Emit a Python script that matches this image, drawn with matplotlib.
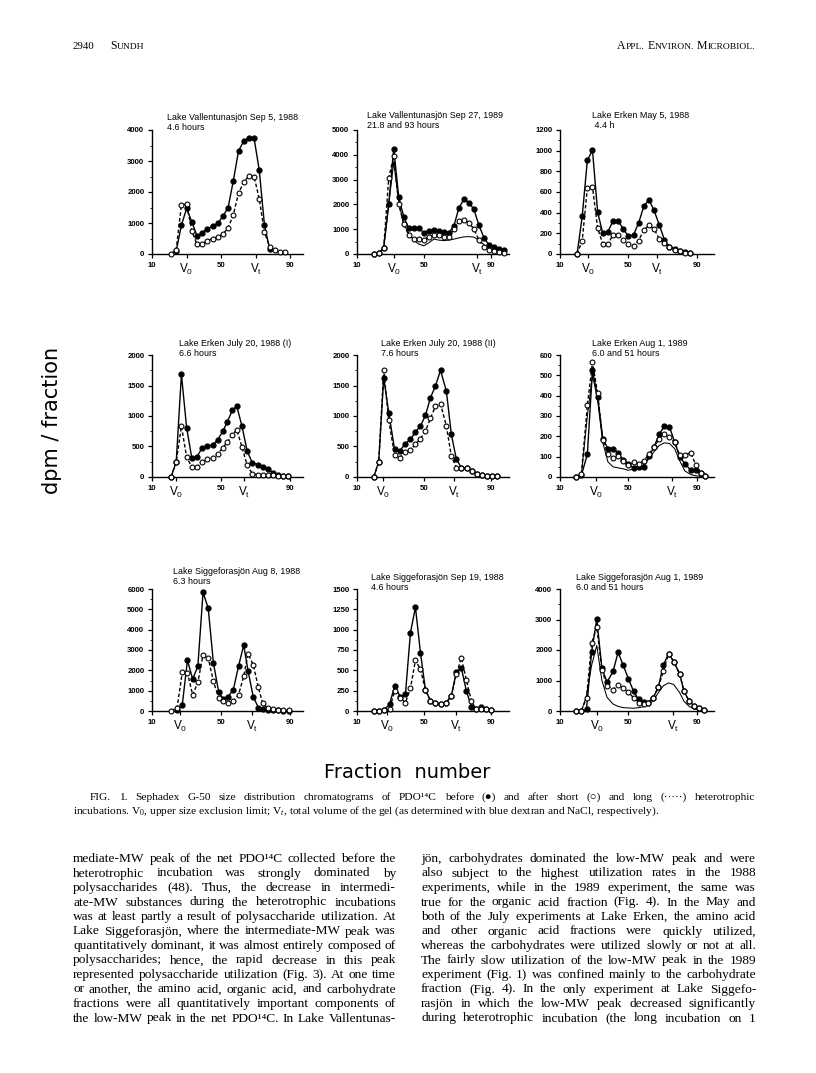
import numpy as np
import matplotlib
matplotlib.use('Agg')
import matplotlib.pyplot as plt

nan = np.nan
W, H = 816, 1073

plt.rcParams['mathtext.fontset'] = 'custom'
plt.rcParams['mathtext.rm'] = 'Liberation Serif'
plt.rcParams['mathtext.it'] = 'Liberation Serif:italic'
plt.rcParams['mathtext.sf'] = 'Liberation Sans'

# ==========================
# Data (fraction number vs dpm / fraction)
# ==========================

# Lake Vallentunasjon Sep 5, 1988
p1_frac = [21, 24, 27, 30, 33, 36, 39, 42, 45, 48, 51, 54, 57, 60, 63, 66, 69, 72, 75, 78, 81, 84, 87]
p1_before = [nan, 100, 930, 1470, 1040, 585, 690, 810, 900, 990, 1220, 1500, 2360, 3320, 3640, 3740, 3740, 2700, 940, 160, nan, nan, nan]
p1_short = [0, 140, 1580, 1610, 750, 310, 335, 420, 500, 550, 640, 845, 1260, 1960, 2310, 2520, 2500, 1780, 705, 230, 120, 75, 65]

# Lake Vallentunasjon Sep 27, 1989
p2_frac = [20, 23, 26, 29, 32, 35, 38, 41, 44, 47, 50, 53, 56, 59, 62, 65, 68, 71, 74, 77, 80, 83, 86, 89, 92, 95, 98]
p2_before = [0, 30, 260, 2010, 4245, 2280, 1500, 1040, 1040, 1040, 860, 930, 960, 930, 900, 860, 1130, 1850, 2210, 2075, 1800, 1160, 660, 365, 280, 215, 150]
p2_short = [0, 30, 250, 3060, 3960, 2000, 1200, 755, 590, 590, 570, 700, 755, 755, 700, 700, 1020, 1330, 1375, 1240, 1020, 550, 300, 175, 120, 70, 40]
p2_long = [0, 0, 250, 2000, 3700, 2100, 1200, 850, 550, 400, 330, 450, 600, 560, 540, 560, 600, 650, 690, 700, 680, 560, 380, 220, 130, 80, 40]

# Lake Erken May 5, 1988
p3_frac = [20, 23, 26, 29, 32, 35, 38, 41, 44, 47, 50, 53, 56, 59, 62, 65, 68, 71, 74, 77, 80, 83, 86]
p3_before = [0, 366, 908, 1005, 405, 201, 217, 318, 318, 243, 172, 185, 302, 460, 525, 422, 285, 140, 71, 49, 32, 23, 13]
p3_short = [0, 130, 639, 649, 250, 97, 97, 185, 188, 136, 97, 81, 130, 233, 276, 243, 146, 104, 65, 42, 26, 13, 6]

# Lake Erken July 20, 1988 (I)
p4_frac = [21, 24, 27, 30, 33, 36, 39, 42, 45, 48, 51, 53.5, 56.5, 59, 62, 65, 68, 71, 74, 77, 80, 83, 85.5, 88.5]
p4_before = [0, 247, 1682, 811, 312, 329, 482, 504, 521, 614, 751, 904, 1096, 1162, 833, 427, 230, 203, 164, 137, 66, 27, 16, 11]
p4_short = [0, 247, 833, 329, 164, 164, 247, 301, 312, 384, 477, 575, 685, 778, 493, 192, 55, 38, 38, 27, 27, 16, 16, 11]

# Lake Erken July 20, 1988 (II)
p5_frac = [20, 23, 26, 29, 32.5, 35.5, 39, 42, 45, 48, 51, 54, 57, 60, 63.5, 66.5, 69.5, 72.5, 76, 79, 82, 85, 88, 91, 94]
p5_before = [0, 246, 1628, 1055, 454, 426, 546, 617, 738, 836, 1011, 1301, 1492, 1749, 1410, 699, 290, 153, 142, 98, 55, 33, 16, 16, 11]
p5_short = [0, 246, 1749, 929, 361, 317, 410, 443, 536, 628, 754, 962, 1164, 1202, 836, 344, 153, 142, 142, 98, 55, 33, 16, 16, 11]

# Lake Erken Aug 1, 1989
p6_frac = [19.5, 22.5, 26, 29, 32, 35, 38, 41, 44, 47, 50, 53, 56, 59, 62, 65, 68, 71, 74, 77, 80, 83, 86.5, 89.5, 92.5, 95]
p6_before = [0, 8, 112, 526, 395, 189, 140, 140, 120, 82, 66, 44, 49, 49, 102, 148, 210, 250, 247, 173, 99, 66, 33, 33, 20, 3]
p6_short = [0, 15, 353, 564, 411, 184, 115, 94, 102, 79, 58, 72, 66, 79, 112, 148, 189, 210, 197, 173, 107, 110, 118, 58, 20, 3]
p6_long = [0, 10, 300, 500, 380, 170, 75, 50, 45, 40, 33, 40, 48, 60, 90, 125, 155, 168, 165, 140, 80, 30, 12, 6, 3, 0]

# Lake Siggeforasjon Aug 8, 1988
p7_frac = [21, 24.5, 27.5, 30.5, 33.5, 36.5, 39.5, 42.5, 45.5, 48.5, 51, 54, 57, 60, 63, 65.5, 68.5, 71.5, 74, 77, 80, 83, 86, 89]
p7_before = [nan, 50, 300, 2496, 1570, 2198, 5835, 5058, 2364, 959, 595, 711, 1041, 2198, 3240, 1983, 711, 165, 83, 50, 50, 30, 20, 10]
p7_short = [0, 165, 1900, 1867, 793, 1405, 2777, 2612, 1455, 661, 496, 413, 496, 793, 1702, 2810, 2281, 1157, 380, 132, 100, 66, 50, 33]

# Lake Siggeforasjon Sep 19, 1988
p8_frac = [20, 23, 26, 29.5, 32.5, 36, 39, 42, 45, 48, 51, 54, 57, 60, 63.5, 66.5, 69.5, 72.5, 75.5, 78.5, 81, 84.5, 87.5, 90.5]
p8_before = [0, 0, 8, 82, 307, 176, 205, 963, 1275, 717, 258, 127, 98, 82, 102, 189, 484, 530, 246, 53, 25, 53, 25, 8]
p8_short = [0, 0, 8, 25, 246, 164, 102, 279, 627, 512, 258, 127, 98, 82, 102, 189, 451, 656, 381, 127, 25, 25, 25, 8]

# Lake Siggeforasjon Aug 1, 1989
p9_frac = [19.5, 22.5, 25.5, 28.5, 31.5, 34.5, 37.5, 41, 44, 47, 50, 53, 56, 59, 61.5, 64.5, 67.5, 70.5, 73.5, 76.5, 80, 82.5, 85.5, 88.5, 91.5, 94.5]
p9_before = [0, 0, 54, 1946, 3005, 1405, 941, 1297, 1924, 1492, 1059, 649, 378, 292, 270, 432, 778, 1514, 1881, 1622, 1211, 649, 324, 162, 86, 32]
p9_short = [0, 0, 432, 2216, 2757, 1351, 832, 703, 865, 757, 616, 432, 270, 216, 270, 432, 778, 1319, 1881, 1622, 1211, 649, 324, 162, 86, 32]
p9_long = [0, 0, 500, 1500, 2150, 1000, 450, 230, 150, 110, 100, 90, 110, 140, 200, 340, 600, 830, 920, 870, 600, 320, 150, 70, 30, 10]

titles = [
    ("Lake Vallentunasjön Sep 5, 1988", "4.6 hours"),
    ("Lake Vallentunasjön Sep 27, 1989", "21.8 and 93 hours"),
    ("Lake Erken May 5, 1988", " 4.4 h"),
    ("Lake Erken July 20, 1988 (I)", "6.6 hours"),
    ("Lake Erken July 20, 1988 (II)", "7.6 hours"),
    ("Lake Erken Aug 1, 1989", "6.0 and 51 hours"),
    ("Lake Siggeforasjön Aug 8, 1988", "6.3 hours"),
    ("Lake Siggeforasjön Sep 19, 1988", "4.6 hours"),
    ("Lake Siggeforasjön Aug 1, 1989", "6.0 and 51 hours"),
]
v0_pos = [30, 32, 26.5, 24, 25.5, 31, 26, 28, 31.5]
vt_pos = [70, 82, 66.5, 63, 68, 75.5, 68, 69.5, 76]
y_max = [4000, 5000, 1200, 2000, 2000, 600, 6000, 1500, 4000]
y_step = [1000, 1000, 200, 500, 500, 100, 1000, 250, 1000]

panels = [
    (p1_frac, p1_before, p1_short, None),
    (p2_frac, p2_before, p2_short, p2_long),
    (p3_frac, p3_before, p3_short, None),
    (p4_frac, p4_before, p4_short, None),
    (p5_frac, p5_before, p5_short, None),
    (p6_frac, p6_before, p6_short, p6_long),
    (p7_frac, p7_before, p7_short, None),
    (p8_frac, p8_before, p8_short, None),
    (p9_frac, p9_before, p9_short, p9_long),
]

left_text = [
    "mediate-MW peak of the net PDO¹⁴C collected before the",
    "heterotrophic incubation was strongly dominated by",
    "polysaccharides (48). Thus, the decrease in intermedi-",
    "ate-MW substances during the heterotrophic incubations",
    "was at least partly a result of polysaccharide utilization. At",
    "Lake Siggeforasjön, where the intermediate-MW peak was",
    "quantitatively dominant, it was almost entirely composed of",
    "polysaccharides; hence, the rapid decrease in this peak",
    "represented polysaccharide utilization (Fig. 3). At one time",
    "or another, the amino acid, organic acid, and carbohydrate",
    "fractions were all quantitatively important components of",
    "the low-MW peak in the net PDO¹⁴C. In Lake Vallentunas-",
]
right_text = [
    "jön, carbohydrates dominated the low-MW peak and were",
    "also subject to the highest utilization rates in the 1988",
    "experiments, while in the 1989 experiment, the same was",
    "true for the organic acid fraction (Fig. 4). In the May and",
    "both of the July experiments at Lake Erken, the amino acid",
    "and other organic acid fractions were quickly utilized,",
    "whereas the carbohydrates were utilized slowly or not at all.",
    "The fairly slow utilization of the low-MW peak in the 1989",
    "experiment (Fig. 1) was confined mainly to the carbohydrate",
    "fraction (Fig. 4). In the only experiment at Lake Siggefo-",
    "rasjön in which the low-MW peak decreased significantly",
    "during heterotrophic incubation (the long incubation on 1",
]
caption_1 = ("FIG. 1. Sephadex G-50 size distribution chromatograms of PDO¹⁴C before (●) "
             "and after short (○) and long (·····) heterotrophic")
caption_2 = (r"incubations. V$_0$, upper size exclusion limit; V$_t$, total volume of the gel "
             "(as determined with blue dextran and NaCl, respectively).")

# ==========================
# Layout (pixels on the page)
# ==========================
col_left = [152, 357, 560]
col_scale = [1.73, 1.67, 1.71]   # px per fraction
col_xmax = [97, 101, 100]
row_top = [130, 355, 589]
row_bottom = [254, 477, 711]
title_xy = [(167, 118), (367, 115), (592, 116),
            (179, 343), (381, 343), (592, 343),
            (173, 572), (371, 577), (576, 578)]

fig = plt.figure(figsize=(W / 100, H / 100), dpi=100)
fig.patch.set_facecolor('white')
renderer = fig.canvas.get_renderer()

SANS = ['Liberation Sans', 'DejaVu Sans']
SERIF = ['Liberation Serif', 'DejaVu Serif', 'DejaVu Sans']


def fx(x):
    return x / W


def fy(y):
    return 1 - y / H


for i, (frac, before, short, long_) in enumerate(panels):
    r, c = divmod(i, 3)
    left = col_left[c]
    width = (col_xmax[c] - 10) * col_scale[c]
    ax = fig.add_axes([fx(left), fy(row_bottom[r]), width / W, (row_bottom[r] - row_top[r]) / H])
    ax.patch.set_alpha(0)

    ax.plot(frac, before, '-o', color='black', lw=1.0, ms=3.5, mfc='black', mec='black',
            clip_on=False, zorder=3)
    ax.plot(frac, short, 'o', color='black', ls=(0, (2.6, 1.6)), lw=1.0, ms=3.5, mfc='white',
            mec='black', mew=0.8, clip_on=False, zorder=4)
    if long_ is not None:
        ax.plot(frac, long_, '-', color='black', lw=0.75, clip_on=False, zorder=2)

    ax.set_xlim(10, col_xmax[c])
    ax.set_ylim(0, y_max[i])
    for s in ['top', 'right']:
        ax.spines[s].set_visible(False)
    for s in ['left', 'bottom']:
        ax.spines[s].set_linewidth(1.0)

    yt = np.arange(0, y_max[i] + 1, y_step[i])
    ax.set_yticks(yt)
    ax.set_yticklabels([str(int(v)) for v in yt])
    ax.set_yticks(yt[:-1] + y_step[i] / 2, minor=True)
    ax.set_xticks([10, v0_pos[i], 50, vt_pos[i], 90])
    ax.set_xticklabels(['10', r'$\mathsf{V_0}$', '50', r'$\mathsf{V_t}$', '90'])
    ax.tick_params(axis='both', which='major', direction='out', length=3, width=0.9, pad=2.5)
    ax.tick_params(axis='y', which='minor', direction='out', length=1.6, width=0.6)
    for lbl in ax.get_yticklabels() + ax.get_xticklabels():
        lbl.set_family(SANS)
        lbl.set_fontsize(5.6)
        lbl.set_fontweight('bold')
    for k in (1, 3):
        lbl = ax.get_xticklabels()[k]
        lbl.set_fontsize(8.5)
        lbl.set_fontweight('normal')

    tx, ty = title_xy[i]
    fig.text(fx(tx), fy(ty), titles[i][0], fontsize=6.4, family=SANS, va='center', ha='left')
    fig.text(fx(tx), fy(ty + 10), titles[i][1], fontsize=6.4, family=SANS, va='center', ha='left')

# big axis labels
fig.text(fx(52), fy(420), 'dpm / fraction', rotation=90, fontsize=15, family='DejaVu Sans',
         va='center', ha='center')
fig.text(fx(407), fy(773), 'Fraction  number', fontsize=14, family='DejaVu Sans',
         va='center', ha='center')


def text_width(s, size):
    t = fig.text(0, 0, s, fontsize=size, family=SERIF)
    w = t.get_window_extent(renderer).width
    t.remove()
    return w


def small_caps(words, x, y, big, small, ha='left'):
    # words written as small caps: first letter large, rest small upper case
    pieces = []
    for j, w in enumerate(words):
        if j:
            pieces.append((' ', big))
        pieces.append((w[0], big))
        if len(w) > 1:
            pieces.append((w[1:].upper(), small))
    widths = [text_width(p, s) for p, s in pieces]
    x0 = x - sum(widths) if ha == 'right' else x
    for (p, s), w in zip(pieces, widths):
        fig.text(fx(x0), fy(y), p, fontsize=s, family=SERIF, va='baseline', ha='left')
        x0 += w


# page header
fig.text(fx(73), fy(49), '2940', fontsize=7.8, family=SERIF, va='baseline', ha='left')
small_caps(['Sundh'], 110, 49, 8.5, 6.8)
small_caps(['Appl.', 'Environ.', 'Microbiol.'], 755, 49, 8.5, 6.8, ha='right')


def justify(line, x0, x1, y, size):
    words = line.split(' ')
    texts = [fig.text(0, fy(y), w, fontsize=size, family=SERIF, va='center', ha='left')
             for w in words]
    widths = [t.get_window_extent(renderer).width for t in texts]
    gap = (x1 - x0 - sum(widths)) / max(len(words) - 1, 1)
    x = x0
    for t, w in zip(texts, widths):
        t.set_x(fx(x))
        x += w + gap


# caption: second line runs from 73 to about 662 px
cap_size = 8.0 * 589 / text_width(caption_2, 8.0)
justify(caption_1, 90, 755, 797, cap_size)
fig.text(fx(73), fy(811), caption_2, fontsize=cap_size, family=SERIF, va='center', ha='left')

# body text, two justified columns; size chosen so the tightest line just fits
widest = max(text_width(s, 10) / (396 - 73) for s in left_text)
widest = max(widest, max(text_width(s, 10) / (756 - 421) for s in right_text))
body_size = 10 / widest * 0.995
for k, line in enumerate(left_text):
    justify(line, 73, 396, 859 + 14.5 * k, body_size)
for k, line in enumerate(right_text):
    justify(line, 421, 756, 859 + 14.5 * k, body_size)

fig.savefig('out.png', dpi=100, facecolor='white')
